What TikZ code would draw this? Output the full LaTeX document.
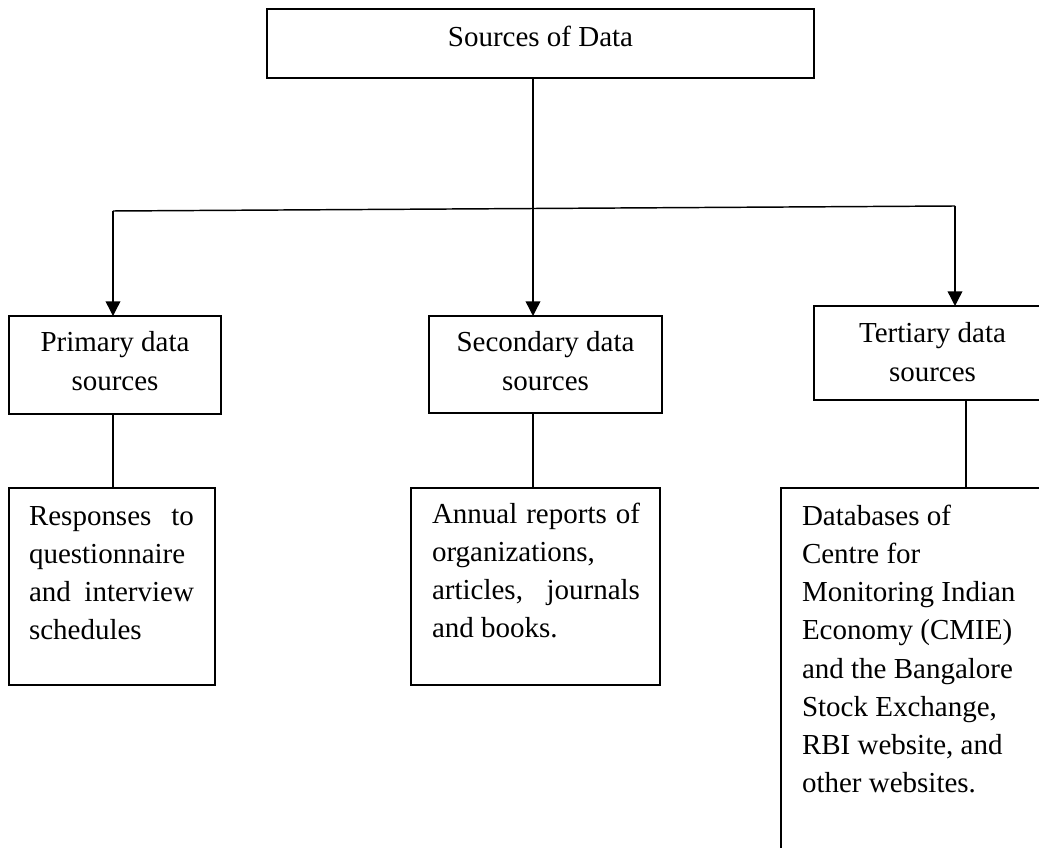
\documentclass[tikz,border=0pt]{standalone}
\usepackage{fontspec}
\setmainfont{Liberation Serif}
\usetikzlibrary{arrows.meta}

% one unit of the drawing grid
\newlength\px \setlength\px{0.75pt}
\newlength\cellw \newlength\cellpad \newlength\cellt
\newcommand\cellfont{\fontsize{21.75pt}{28.7pt}\selectfont}
% fixed-size cell: #1 width, #2 height, #3 first baseline below the top, #4 lines
\newcommand\cell[4]{\setlength\cellw{#1}%
  \vbox to #2{\cellfont\parskip=0pt
    \vskip\dimexpr#3-\baselineskip\relax
    \hbox{}#4\vfil}}
% centred, ragged-right and justified lines
\newcommand\cl[1]{\hbox to\cellw{\hfil#1\hfil}}
\newcommand\rl[1]{\hbox to\cellw{\hskip\cellpad#1\hfil}}
\newcommand\jl[1]{\hbox to\cellw{\hskip\cellpad\hbox to\cellt{#1}\hfil}}

\tikzset{
  cellbox/.style={draw, line width=1.3pt, inner sep=0pt, outer sep=0pt, anchor=north west},
  link/.style={line width=1.1pt},
  arrowlink/.style={link, -{Triangle[length=11pt, width=11pt]}}
}

\begin{document}
\begin{tikzpicture}[x=0.75pt, y=-0.75pt]
\useasboundingbox (0,0) rectangle (1039,848);
\fill[white] (0,0) rectangle (1039,848);
\clip (0,0) rectangle (1039,848);

% root
\node[cellbox, line width=1.6pt] (top) at (267,9)
  {\cell{547\px}{69\px}{38\px}{\cl{Sources of Data}}};

% three kinds of source
\node[cellbox] (prim) at (9,316)
  {\cell{212\px}{98\px}{36\px}{\cl{Primary data}\cl{sources}}};
\node[cellbox] (sec) at (429,316)
  {\cell{233\px}{97\px}{36\px}{\cl{Secondary data}\cl{sources}}};
\node[cellbox] (ter) at (814,306)
  {\cell{237\px}{94\px}{37\px}{\cl{Tertiary data}\cl{sources}}};

% details of each source
\node[cellbox] (primD) at (9,488)
  {\setlength\cellpad{20\px}\setlength\cellt{165\px}%
   \cell{206\px}{197\px}{37\px}{\jl{Responses to}\jl{questionnaire}\jl{and interview}\rl{schedules}}};
\node[cellbox] (secD) at (411,488)
  {\setlength\cellpad{21\px}\setlength\cellt{208\px}%
   \cell{249\px}{197\px}{35\px}{\jl{Annual reports of}\rl{organizations,}\jl{articles, journals}\rl{and books.}}};
\node[cellbox] (terD) at (781,488)
  {\setlength\cellpad{21\px}%
   \cell{270\px}{380\px}{37\px}{\rl{Databases of}\rl{Centre for}\rl{Monitoring Indian}\rl{Economy (CMIE)}\rl{and the Bangalore}\rl{Stock Exchange,}\rl{RBI website, and}\rl{other websites.}}};

% connectors
\coordinate (mid) at (533,0);
\coordinate (tk) at (966,0);
\coordinate (barL) at (113,211);
\coordinate (barR) at (955,206);

\draw[arrowlink] (top.south -| mid) -- (sec.north -| mid);
\draw[link] (barL) -- (barR);
\draw[arrowlink] (barL) -- (barL |- prim.north);
\draw[arrowlink] (barR) -- (barR |- ter.north);

\draw[link] (prim.south -| barL) -- (primD.north -| barL);
\draw[link] (sec.south -| mid) -- (secD.north -| mid);
\draw[link] (ter.south -| tk) -- (terD.north -| tk);
\end{tikzpicture}
\end{document}
